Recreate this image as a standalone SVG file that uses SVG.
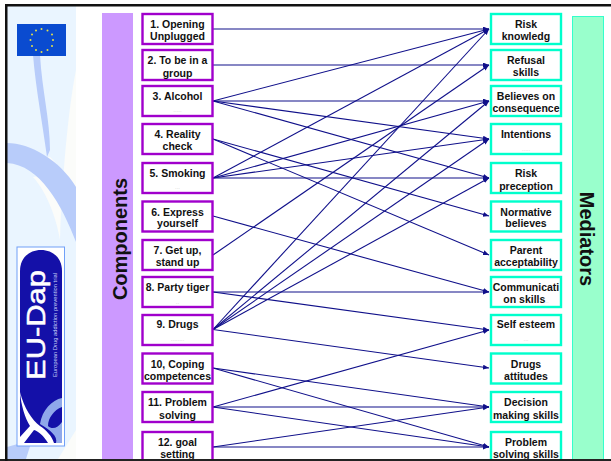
<svg xmlns="http://www.w3.org/2000/svg" width="611" height="461" viewBox="0 0 611 461">
<style>
text{font-family:"Liberation Sans",Arial,sans-serif;font-weight:700;fill:#111;text-anchor:middle}
.t{font-size:10.5px}
.d{font-size:6px;fill:#ccc;font-weight:400}
.c rect{fill:#fff;stroke:#a000cc;stroke-width:2.4}
.m rect{fill:#fff;stroke:#00ffcc;stroke-width:2.4}
.bar{font-size:20px}
#connectors line{stroke:#10108a;stroke-width:1.1;marker-end:url(#a)}
</style>
<defs>
<marker id="a" markerUnits="userSpaceOnUse" markerWidth="7" markerHeight="6" refX="6" refY="2.5" orient="auto"><path d="M0 0L6 2.5L0 5z" fill="#10108a"/></marker>
</defs>
<rect width="611" height="461" fill="#fff"/>
<g id="side-panel">
<rect x="7" y="6" width="69" height="453" fill="#eaf5ff"/>
<path d="M60 240C62 180 68 110 76 70V187C66 175 58 165 50 157L47 157C44 170 42 176 33 177C45 190 56 215 60 240zM76 430L58 459H76z" fill="#fbfcfa"/>
<path d="M33 55L40 55C42 90 50 120 50 150L47 157C42 120 36 90 33 55z" fill="#b8ccfa"/>
<path d="M7 143C30 143 60 160 76 187V242C62 205 40 165 7 163z" fill="#b8ccfa"/>
<path d="M7 459V447L32 440L26 459z" fill="#b8ccfa"/>
</g>
<g id="eu-flag">
<rect x="17" y="24" width="49" height="32" fill="#0a4bd0"/>
<g fill="#e6e04a">
<circle cx="41.500" cy="29" r="1"/><circle cx="47.500" cy="30.500" r="1"/><circle cx="52" cy="34.500" r="1"/><circle cx="53" cy="40" r="1"/><circle cx="52" cy="46" r="1"/><circle cx="47.500" cy="50" r="1"/><circle cx="41.500" cy="52" r="1"/><circle cx="36" cy="50" r="1"/><circle cx="32" cy="46" r="1"/><circle cx="30.500" cy="40" r="1"/><circle cx="32" cy="34.500" r="1"/><circle cx="36" cy="30.500" r="1"/>
</g>
</g>
<g id="eu-dap-logo">
<rect x="17" y="247" width="47.500" height="199" fill="#fff" stroke="#70a0f8" stroke-width="1"/>
<path d="M20 443V271C20 258 29 250 41 250C53 250 62 258 62 271V443z" fill="#1410a8"/>
<path d="M40 424C42 410 52 400 62 398V407C54 410 48 418 48 426C52 430 58 428 62 422V443H56C58 436 50 430 40 424z" fill="#8fa8ea"/>
<path d="M20 392C24 408 32 420 40 426C46 430 52 436 54 443H48C44 436 38 431 34 430L24 443H20V437L30 426C25 418 21 405 20 392z" fill="#fff"/>
<text transform="translate(45 325) rotate(-90)" textLength="110" lengthAdjust="spacingAndGlyphs" style="font-size:25px;font-weight:400;fill:#fff;stroke:#fff;stroke-width:.5">EU-Dap</text>
<text transform="translate(57 325) rotate(-90)" textLength="104" lengthAdjust="spacingAndGlyphs" style="font-size:4.500px;font-weight:400;fill:#c8d0f8">European Drug addiction prevention trial</text>
</g>
<g id="components-bar"><rect x="102" y="13" width="31" height="446" fill="#cc99ff"/><text class="bar" transform="translate(127 239) rotate(-90)">Components</text></g>
<g id="mediators-bar"><rect x="572.500" y="16.500" width="31" height="443" fill="#99ffcc" stroke="#33ffcc"/><text class="bar" transform="translate(580 239) rotate(90)">Mediators</text></g>
<g id="connectors">
<line x1="213" y1="29" x2="489" y2="29"/>
<line x1="213" y1="65" x2="489" y2="65"/>
<line x1="213" y1="101" x2="489" y2="29"/>
<line x1="213" y1="101" x2="489" y2="101"/>
<line x1="213" y1="101" x2="489" y2="139"/>
<line x1="213" y1="101" x2="489" y2="178"/>
<line x1="213" y1="139" x2="489" y2="216"/>
<line x1="213" y1="139" x2="489" y2="255"/>
<line x1="213" y1="178" x2="489" y2="29"/>
<line x1="213" y1="178" x2="489" y2="101"/>
<line x1="213" y1="178" x2="489" y2="139"/>
<line x1="213" y1="178" x2="489" y2="178"/>
<line x1="213" y1="216" x2="489" y2="292"/>
<line x1="213" y1="255" x2="489" y2="65"/>
<line x1="213" y1="292" x2="489" y2="292"/>
<line x1="213" y1="292" x2="489" y2="330"/>
<line x1="213" y1="329.500" x2="489" y2="29"/>
<line x1="213" y1="329.500" x2="489" y2="101"/>
<line x1="213" y1="329.500" x2="489" y2="139"/>
<line x1="213" y1="329.500" x2="489" y2="178"/>
<line x1="213" y1="329.500" x2="489" y2="368"/>
<line x1="213" y1="368" x2="489" y2="407"/>
<line x1="213" y1="368" x2="489" y2="447"/>
<line x1="213" y1="407" x2="489" y2="330"/>
<line x1="213" y1="407" x2="489" y2="407"/>
<line x1="213" y1="407" x2="489" y2="447"/>
<line x1="213" y1="447" x2="489" y2="407"/>
<line x1="213" y1="447" x2="489" y2="447"/>
</g>
<g id="c1" class="c"><rect x="142.500" y="14" width="70" height="30"/><text class="t" x="177.500" y="28">1. Opening</text><text class="t" x="177.500" y="40">Unplugged</text></g>
<g id="c2" class="c"><rect x="142.500" y="50" width="70" height="30"/><text class="t" x="177.500" y="64">2. To be in a</text><text class="t" x="177.500" y="76.500">group</text></g>
<g id="c3" class="c"><rect x="142.500" y="86" width="70" height="30"/><text class="t" x="177.500" y="100">3. Alcohol</text><text class="d" x="177.500" y="112">.....</text></g>
<g id="c4" class="c"><rect x="142.500" y="124" width="70" height="30"/><text class="t" x="177.500" y="138">4. Reality</text><text class="t" x="177.500" y="150">check</text></g>
<g id="c5" class="c"><rect x="142.500" y="163" width="70" height="30"/><text class="t" x="177.500" y="177">5. Smoking</text><text class="d" x="177.500" y="189">...</text></g>
<g id="c6" class="c"><rect x="142.500" y="201.500" width="70" height="30"/><text class="t" x="177.500" y="215.500">6. Express</text><text class="t" x="177.500" y="227">yourself</text></g>
<g id="c7" class="c"><rect x="142.500" y="240" width="70" height="30"/><text class="t" x="177.500" y="254">7. Get up,</text><text class="t" x="177.500" y="266">stand up</text></g>
<g id="c8" class="c"><rect x="142.500" y="277" width="70" height="30"/><text class="t" x="177.500" y="291">8. Party tiger</text><text class="d" x="177.500" y="304">..</text></g>
<g id="c9" class="c"><rect x="142.500" y="315" width="70" height="30"/><text class="t" x="177.500" y="328">9. Drugs</text><text class="d" x="177.500" y="341">........</text></g>
<g id="c10" class="c"><rect x="142.500" y="353.500" width="70" height="30"/><text class="t" x="177.500" y="367.500">10, Coping</text><text class="t" x="177.500" y="379.500">competences</text></g>
<g id="c11" class="c"><rect x="142.500" y="392" width="70" height="30"/><text class="t" x="177.500" y="405.500">11. Problem</text><text class="t" x="177.500" y="418.500">solving</text></g>
<g id="c12" class="c"><rect x="142.500" y="432" width="70" height="30"/><text class="t" x="177.500" y="446">12. goal</text><text class="t" x="177.500" y="458">setting</text></g>
<g id="m1" class="m"><rect x="491" y="14" width="70" height="30"/><text class="t" x="526" y="28">Risk</text><text class="t" x="526" y="40">knowledg</text></g>
<g id="m2" class="m"><rect x="491" y="50" width="70" height="30"/><text class="t" x="526" y="64">Refusal</text><text class="t" x="526" y="76">skills</text></g>
<g id="m3" class="m"><rect x="491" y="86" width="70" height="30"/><text class="t" x="526" y="100">Believes on</text><text class="t" x="526" y="112">consequence</text></g>
<g id="m4" class="m"><rect x="491" y="124" width="70" height="30"/><text class="t" x="526" y="138">Intentions</text><text class="d" x="526" y="151">.....</text></g>
<g id="m5" class="m"><rect x="491" y="163" width="70" height="30"/><text class="t" x="526" y="177">Risk</text><text class="t" x="526" y="189.500">preception</text></g>
<g id="m6" class="m"><rect x="491" y="201.500" width="70" height="30"/><text class="t" x="526" y="215.500">Normative</text><text class="t" x="526" y="227">believes</text></g>
<g id="m7" class="m"><rect x="491" y="240" width="70" height="30"/><text class="t" x="526" y="254">Parent</text><text class="t" x="526" y="266">acceptability</text></g>
<g id="m8" class="m"><rect x="491" y="277" width="70" height="30"/><text class="t" x="526" y="291">Communicati</text><text class="t" x="526" y="303">on skills<tspan style="font-size:6px;fill:#ccc;font-weight:400">..</tspan></text></g>
<g id="m9" class="m"><rect x="491" y="315" width="70" height="30"/><text class="t" x="526" y="328">Self esteem</text><text class="d" x="526" y="341">...</text></g>
<g id="m10" class="m"><rect x="491" y="353.500" width="70" height="30"/><text class="t" x="526" y="367.500">Drugs</text><text class="t" x="526" y="379.500">attitudes</text></g>
<g id="m11" class="m"><rect x="491" y="392" width="70" height="30"/><text class="t" x="526" y="405.500">Decision</text><text class="t" x="526" y="418.500">making skills</text></g>
<g id="m12" class="m"><rect x="491" y="432" width="70" height="30"/><text class="t" x="526" y="446">Problem</text><text class="t" x="526" y="458">solving skills</text></g>
<g id="frame"><rect x="0" y="459" width="611" height="2" fill="#222"/><rect x="5" y="4" width="606" height="2.500" fill="#111"/><rect x="5" y="4" width="2.500" height="457" fill="#111"/></g>
</svg>
